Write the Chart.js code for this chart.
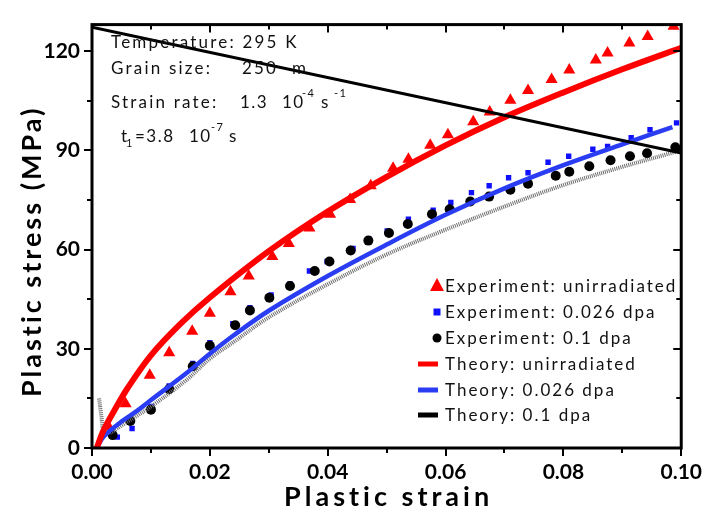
<!DOCTYPE html>
<html>
<head>
<meta charset="utf-8">
<script src="https://cdn.jsdelivr.net/npm/chart.js@4/dist/chart.umd.min.js"></script>
<style>
  html, body { margin: 0; padding: 0; background: #fff; }
  #wrap { width: 714px; height: 518px; }
</style>
</head>
<body>
<div id="wrap"><canvas id="chart" width="714" height="518"></canvas></div>
<script>
// experiment: unirradiated (red triangles)
const expUnirrStrain = [0.0028, 0.0057, 0.0098, 0.0131, 0.0170, 0.0200, 0.0235, 0.0266, 0.0306, 0.0334, 0.0369, 0.0404, 0.0438, 0.0473, 0.0511, 0.0537, 0.0574, 0.0604, 0.0647, 0.0675, 0.0710, 0.0740, 0.0780, 0.0810, 0.0855, 0.0875, 0.0912, 0.0943, 0.0987];
const expUnirrStress = [6.5, 13.4, 22.0, 28.8, 35.3, 40.7, 47.2, 52.0, 57.9, 61.8, 66.5, 70.7, 75.1, 79.3, 84.6, 87.3, 91.5, 94.7, 98.6, 101.6, 105.1, 108.1, 111.4, 114.3, 117.3, 119.4, 122.4, 124.4, 127.5];

// experiment: 0.026 dpa (blue squares)
const expLowStrain = [0.0043, 0.0068, 0.0100, 0.0131, 0.0171, 0.0200, 0.0239, 0.0268, 0.0304, 0.0336, 0.0369, 0.0399, 0.0443, 0.0470, 0.0501, 0.0537, 0.0579, 0.0609, 0.0644, 0.0674, 0.0707, 0.0740, 0.0774, 0.0809, 0.0850, 0.0875, 0.0915, 0.0947, 0.0992];
const expLowStress = [3.3, 5.9, 12.6, 18.8, 25.6, 31.8, 37.6, 42.4, 46.3, 49.6, 53.5, 56.4, 60.3, 63.2, 65.6, 69.2, 71.9, 74.2, 77.2, 79.3, 81.7, 83.2, 86.4, 88.2, 90.3, 91.2, 93.8, 96.2, 98.3];

// experiment: 0.1 dpa (black circles)
const expHighStrain = [0.0035, 0.0065, 0.0100, 0.0131, 0.0171, 0.0200, 0.0243, 0.0268, 0.0301, 0.0336, 0.0378, 0.0403, 0.0439, 0.0469, 0.0504, 0.0536, 0.0577, 0.0607, 0.0642, 0.0674, 0.0710, 0.0740, 0.0787, 0.0810, 0.0844, 0.0880, 0.0913, 0.0942, 0.0990];
const expHighStress = [3.9, 8.2, 11.6, 17.8, 24.7, 30.9, 37.1, 41.6, 45.4, 49.0, 53.5, 56.4, 59.7, 62.7, 65.0, 67.7, 70.7, 72.2, 74.5, 76.0, 78.1, 79.9, 82.3, 83.5, 85.2, 87.0, 88.2, 89.1, 90.9];

// theory curves
const thUnirrStrain = [0.0008, 0.002, 0.004, 0.006, 0.01, 0.015, 0.02, 0.03, 0.04, 0.05, 0.06, 0.07, 0.08, 0.09, 0.1];
const thUnirrStress = [0, 5.5, 12, 18, 28, 37.5, 45.5, 59.5, 71.5, 82, 91.5, 100, 107.5, 114.5, 121];

const thLowStrain = [0.0008, 0.002, 0.005, 0.0077, 0.01, 0.016, 0.02, 0.024, 0.03, 0.04, 0.05, 0.06, 0.07, 0.08, 0.09, 0.0985];
const thLowStress = [0, 3.5, 8, 11.3, 14.5, 22.6, 28.5, 34, 41.5, 52, 61.5, 70.5, 78.5, 85.5, 91.8, 97];

const thHighStrain = [0.0012, 0.0016, 0.002, 0.003, 0.005, 0.0077, 0.01, 0.016, 0.02, 0.024, 0.03, 0.04, 0.05, 0.06, 0.07, 0.08, 0.09, 0.099];
const thHighStress = [15, 9.5, 5, 4.6, 6.8, 9.8, 12.5, 20.5, 27, 32, 39.5, 49.5, 58.5, 66, 73, 79.5, 85, 89.5];

// straight reference line
const refStrain = [0, 0.1];
const refStress = [127.2, 89.2];

// axes
const xTicks = [0, 0.01, 0.02, 0.03, 0.04, 0.05, 0.06, 0.07, 0.08, 0.09, 0.1];
const xLabels = ['0.00', '', '0.02', '', '0.04', '', '0.06', '', '0.08', '', '0.10'];
const yTicks = [0, 15, 30, 45, 60, 75, 90, 105, 120];
const yLabels = ['0', '', '30', '', '60', '', '90', '', '120'];

const legendNames = ['Experiment: unirradiated', 'Experiment: 0.026 dpa', 'Experiment: 0.1 dpa',
  'Theory: unirradiated', 'Theory: 0.026 dpa', 'Theory: 0.1 dpa'];

const pts = (xs, ys) => xs.map((x, i) => ({ x: x, y: ys[i] }));

const FONT = 'Lato, "Open Sans", sans-serif';

// frame, ticks on all four sides, axis titles
const framePlugin = {
  id: 'frame',
  afterDraw(chart) {
    const { ctx, chartArea: a, scales } = chart;
    const x = scales.x, y = scales.y;
    ctx.save();
    ctx.strokeStyle = '#000';
    ctx.lineWidth = 2;
    xTicks.forEach((v, i) => {
      const px = Math.round(x.getPixelForValue(v));
      const len = xLabels[i] ? 8 : 5;
      ctx.beginPath();
      ctx.moveTo(px, a.bottom); ctx.lineTo(px, a.bottom + len);
      ctx.moveTo(px, a.top); ctx.lineTo(px, a.top + len);
      ctx.stroke();
    });
    yTicks.forEach((v, i) => {
      const py = Math.round(y.getPixelForValue(v));
      const len = yLabels[i] ? 8 : 5;
      ctx.beginPath();
      ctx.moveTo(a.left, py); ctx.lineTo(a.left - len, py);
      ctx.moveTo(a.right, py); ctx.lineTo(a.right - len, py);
      ctx.stroke();
    });
    ctx.lineWidth = 3;
    ctx.strokeRect(a.left, a.top, a.right - a.left, a.bottom - a.top);

    // axis titles
    ctx.fillStyle = '#000';
    ctx.font = 'bold 27px ' + FONT;
    ctx.letterSpacing = '4px';
    ctx.textAlign = 'center';
    ctx.textBaseline = 'middle';
    ctx.fillText('Plastic strain', (a.left + a.right) / 2 + 2, 497);
    ctx.translate(32, (a.top + a.bottom) / 2 + 15);
    ctx.rotate(-Math.PI / 2);
    ctx.letterSpacing = '3px';
    ctx.fillText('Plastic stress (MPa)', 0, 0);
    ctx.restore();
  }
};

// condition box + legend inside the plot
const notePlugin = {
  id: 'notes',
  afterDraw(chart) {
    const ctx = chart.ctx;
    ctx.save();
    ctx.fillStyle = '#111';
    ctx.textBaseline = 'alphabetic';
    ctx.textAlign = 'left';
    const t = (s, x, y, size) => {
      ctx.font = (size || 17) + 'px ' + FONT;
      ctx.fillText(s, x, y);
    };
    ctx.letterSpacing = '2.2px';
    t('Temperature: 295 K', 111, 48);
    t('Grain size:', 111, 74);
    t('250', 242, 74);
    t('m', 292, 74);
    t('Strain rate:', 111, 108);
    ctx.letterSpacing = '1.5px';
    t('1.3', 240, 108);
    t('10', 282, 108);
    t('-4', 302, 97, 11);
    t('s', 321, 108);
    t('-1', 334, 97, 11);
    t('t', 121, 142);
    t('1', 126, 147, 11);
    t('=3.8', 135, 142);
    t('10', 189, 142);
    t('-7', 211, 131, 11);
    t('s', 229, 142);

    // legend
    const ds = chart.data.datasets;
    const rowY = [286, 312, 338, 364, 390, 415];
    ctx.letterSpacing = '2px';
    ctx.font = '17px ' + FONT;
    ctx.textBaseline = 'middle';
    legendNames.forEach((name, i) => {
      const d = ds[i];
      const cy = rowY[i];
      const cx = 437;
      if (i < 3) {
        ctx.fillStyle = d.backgroundColor;
        ctx.beginPath();
        if (d.pointStyle === 'triangle') {
          ctx.moveTo(cx, cy - 8); ctx.lineTo(cx + 7, cy + 5); ctx.lineTo(cx - 7, cy + 5);
          ctx.closePath();
        } else if (d.pointStyle === 'rect') {
          ctx.rect(cx - 3.5, cy - 3.5, 7, 7);
        } else {
          ctx.arc(cx, cy, 4.5, 0, Math.PI * 2);
        }
        ctx.fill();
      } else {
        ctx.strokeStyle = i === 5 ? '#000' : d.borderColor;
        ctx.lineWidth = 5;
        ctx.beginPath();
        ctx.moveTo(418, cy); ctx.lineTo(438, cy);
        ctx.stroke();
      }
      ctx.fillStyle = '#111';
      ctx.fillText(name, 445, cy + 1);
    });
    ctx.restore();
  }
};

const ctx = document.getElementById('chart').getContext('2d');
new Chart(ctx, {
  type: 'scatter',
  data: {
    datasets: [
      { label: legendNames[0], data: pts(expUnirrStrain, expUnirrStress), pointStyle: 'triangle',
        pointRadius: 7, backgroundColor: '#ff0000', borderWidth: 0, order: 6 },
      { label: legendNames[1], data: pts(expLowStrain, expLowStress), pointStyle: 'rect',
        pointRadius: 3.8, backgroundColor: '#1010ff', borderWidth: 0, order: 5 },
      { label: legendNames[2], data: pts(expHighStrain, expHighStress), pointStyle: 'circle',
        pointRadius: 5, backgroundColor: '#000', borderWidth: 0, order: 4 },
      { label: legendNames[3], data: pts(thUnirrStrain, thUnirrStress), type: 'line', showLine: true,
        borderColor: '#ff0000', borderWidth: 6, pointRadius: 0, tension: 0.35, order: 3 },
      { label: legendNames[4], data: pts(thLowStrain, thLowStress), type: 'line', showLine: true,
        borderColor: '#2a3df2', borderWidth: 4.5, pointRadius: 0, tension: 0.35, order: 3 },
      { label: legendNames[5], data: pts(thHighStrain, thHighStress), type: 'line', showLine: true,
        borderColor: '#6e6e6e', borderWidth: 4, borderDash: [1, 1], pointRadius: 0, tension: 0.35, order: 3 },
      { label: '', data: pts(refStrain, refStress), type: 'line', showLine: true,
        borderColor: '#000', borderWidth: 3, pointRadius: 0, order: 1 }
    ]
  },
  options: {
    responsive: false,
    animation: false,
    layout: { padding: { top: 18, right: 21, left: 0, bottom: 0 } },
    plugins: {
      legend: { display: false },
      tooltip: { enabled: false }
    },
    scales: {
      x: {
        type: 'linear', min: 0, max: 0.1,
        afterFit: s => { s.height = 70; },
        afterBuildTicks: s => { s.ticks = xTicks.map(v => ({ value: v })); },
        grid: { display: false, drawTicks: false },
        border: { display: false },
        ticks: {
          padding: 12, color: '#000', maxRotation: 0, autoSkip: false,
          font: { family: FONT, size: 21, weight: 'bold' },
          callback: (v, i) => xLabels[i]
        }
      },
      y: {
        type: 'linear', min: 0, max: 128,
        afterFit: s => { s.width = 92; },
        afterBuildTicks: s => { s.ticks = yTicks.map(v => ({ value: v })); },
        grid: { display: false, drawTicks: false },
        border: { display: false },
        ticks: {
          padding: 12, color: '#000', autoSkip: false,
          font: { family: FONT, size: 21, weight: 'bold' },
          callback: (v, i) => yLabels[i]
        }
      }
    }
  },
  plugins: [framePlugin, notePlugin]
});
</script>
</body>
</html>
